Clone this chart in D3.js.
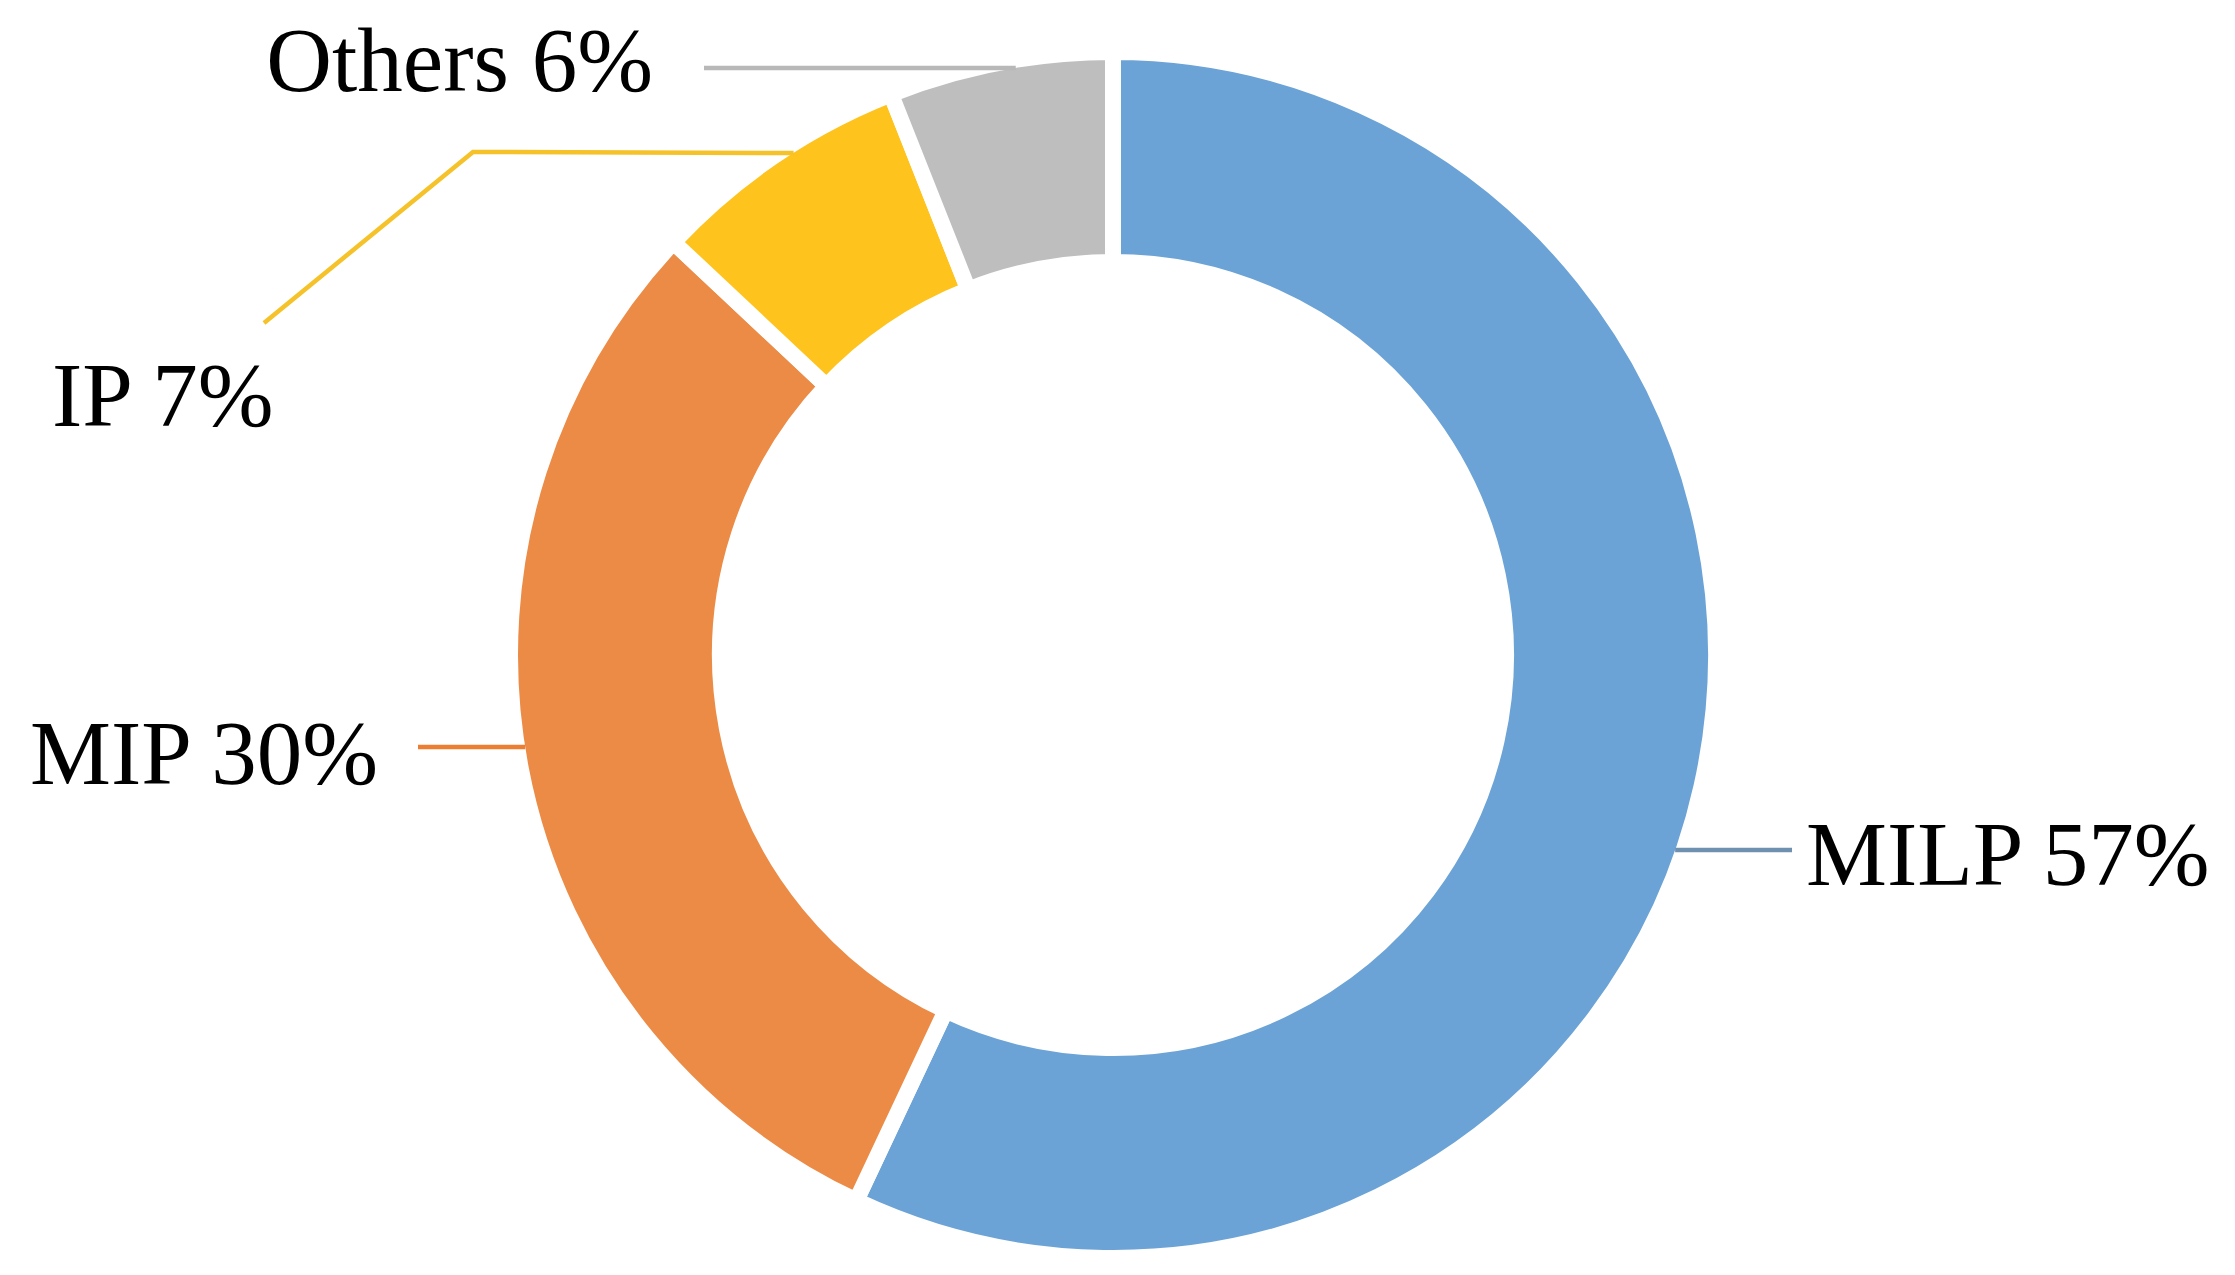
<!DOCTYPE html>
<html>
<head>
<meta charset="utf-8">
<script src="https://cdn.jsdelivr.net/npm/d3@7"></script>
<style>
  html, body { margin: 0; padding: 0; background: #ffffff; }
  svg { display: block; }
</style>
</head>
<body>
<svg id="chart" width="2235" height="1275"></svg>
<script>
// ---- data ----
const categories = ["MILP", "MIP", "IP", "Others"];
const values = [57, 30, 7, 6];
const sliceColors = ["#6BA3D6", "#EC8B45", "#FFC31D", "#BEBEBE"];
const leaderColors = ["#7090B0", "#ED7D31", "#F5C22A", "#B8B8B8"];

// ---- layout ----
const W = 2235, H = 1275;
const cx = 1113, cy = 655;
const strokeW = 16;
const outerR = 603, innerR = 393;
const visR = outerR - strokeW / 2;

// label layout: leader y offset from centre, side, optional elbow, text position
const labelLayout = [
  { dy: 195,  side: 1,  elbow: null,                  end: [1792, 850], text: [1806, 885], anchor: "start" },
  { dy: 92,   side: -1, elbow: null,                  end: [418, 747],  text: [378, 784],  anchor: "end" },
  { dy: -502, side: -1, elbow: [473, 152],            end: [264, 323],  text: [52, 426],   anchor: "start" },
  { dy: -587, side: -1, elbow: null,                  end: [704, 68],   text: [653, 91],   anchor: "end" }
];

const svg = d3.select("#chart");
const g = svg.append("g").attr("transform", `translate(${cx},${cy})`);

const total = d3.sum(values);
const pie = d3.pie().sort(null).value(d => d.value);
const arcs = pie(categories.map((c, i) => ({ name: c, value: values[i], i })));
const arc = d3.arc().innerRadius(innerR).outerRadius(outerR);

g.selectAll("path.slice")
  .data(arcs)
  .join("path")
  .attr("class", "slice")
  .attr("d", arc)
  .attr("fill", d => sliceColors[d.data.i])
  .attr("stroke", "#ffffff")
  .attr("stroke-width", strokeW)
  .attr("stroke-linejoin", "miter");

// leader lines
const lines = svg.append("g");
arcs.forEach(d => {
  const L = labelLayout[d.data.i];
  const y0 = cy + L.dy;
  const x0 = cx + L.side * Math.sqrt(visR * visR - L.dy * L.dy);
  const pts = [[x0, y0]];
  if (L.elbow) pts.push(L.elbow);
  pts.push(L.end);
  lines.append("path")
    .attr("d", d3.line()(pts))
    .attr("fill", "none")
    .attr("stroke", leaderColors[d.data.i])
    .attr("stroke-width", 4.5);
});

// labels
svg.append("g").selectAll("text")
  .data(arcs)
  .join("text")
  .attr("x", d => labelLayout[d.data.i].text[0])
  .attr("y", d => labelLayout[d.data.i].text[1])
  .attr("text-anchor", d => labelLayout[d.data.i].anchor)
  .attr("font-family", "'Liberation Serif', 'Times New Roman', serif")
  .attr("font-size", 91)
  .attr("fill", "#000000")
  .text(d => `${d.data.name} ${Math.round(d.data.value / total * 100)}%`);
</script>
</body>
</html>
